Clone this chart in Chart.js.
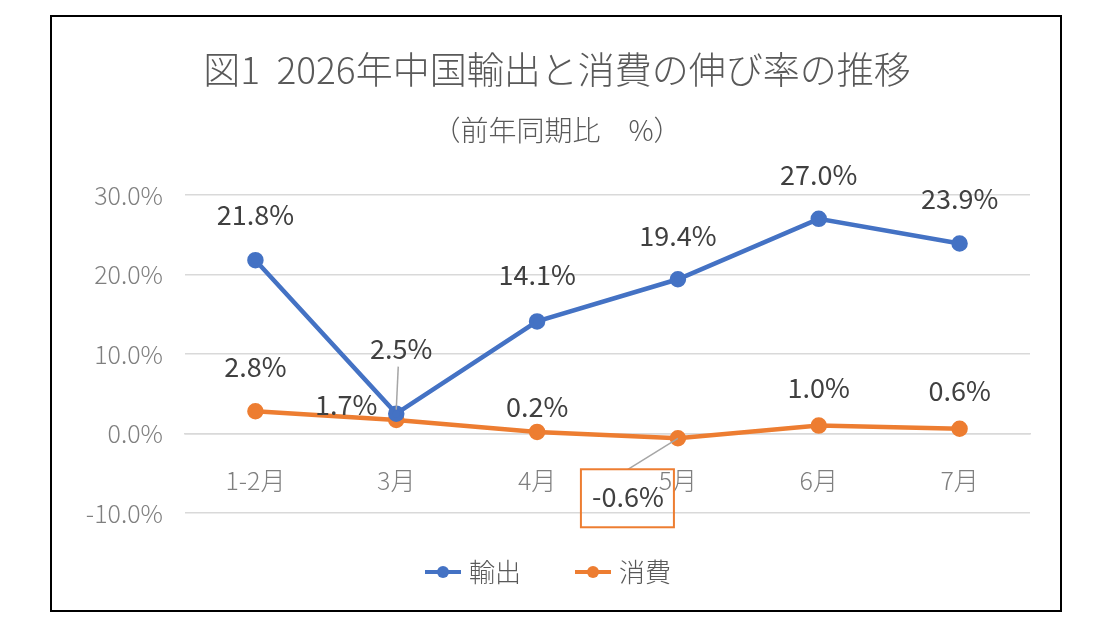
<!DOCTYPE html>
<html><head><meta charset="utf-8">
<script src="https://cdn.jsdelivr.net/npm/chart.js@4"></script>
<style>
body{margin:0;background:#fff}
#box{position:absolute;left:50px;top:15px;width:1012px;height:597px;border:2px solid #000;box-sizing:border-box}
</style></head><body>
<div id="box"><canvas id="c" width="1008" height="593"></canvas></div>
<script>
const months = ['1-2月','3月','4月','5月','6月','7月'];
const exportRate = [21.8, 2.5, 14.1, 19.4, 27.0, 23.9];
const consumeRate = [2.8, 1.7, 0.2, -0.6, 1.0, 0.6];
const FONT = '"Noto Sans CJK JP", "Noto Sans", sans-serif';

// label offsets from each point (dx, dy)
const labelPos = [
  [[0,-45],[5,-65],[0,-47],[0,-44],[0,-44],[0,-45]],
  [[0,-45],[-50,-15],[0,-25],[-50,58],[0,-38],[0,-38]]
];

const extras = {
  id:'extras',
  afterDatasetsDraw(chart){
    const ctx = chart.ctx;
    ctx.save();
    ctx.fillStyle='#595959';
    ctx.textAlign='center'; ctx.textBaseline='middle';
    ctx.font='300 37px '+FONT;
    ctx.fillText('図1  2026年中国輸出と消費の伸び率の推移', 505, 53);
    ctx.font='300 28px '+FONT;
    ctx.fillText('（前年同期比　%）', 505, 113);
    chart.data.datasets.forEach((ds,di)=>{
      chart.getDatasetMeta(di).data.forEach((pt,i)=>{
        const [dx,dy]=labelPos[di][i];
        const x=pt.x+dx, y=pt.y+dy;
        if(di===0&&i===1){
          ctx.strokeStyle='#a6a6a6';ctx.lineWidth=1.5;
          ctx.beginPath();ctx.moveTo(x-3,y+18);ctx.lineTo(pt.x,pt.y-4);ctx.stroke();
        }
        if(di===1&&i===3){
          ctx.strokeStyle='#a6a6a6';ctx.lineWidth=1.5;
          ctx.beginPath();ctx.moveTo(x,y-27);ctx.lineTo(pt.x,pt.y);ctx.stroke();
          ctx.strokeStyle='#ED7D31';ctx.lineWidth=2;
          ctx.strokeRect(x-47,y-27,93,58);
        }
        ctx.fillStyle='#404040';ctx.font='27px '+FONT;
        ctx.fillText(ds.data[i].toFixed(1)+'%', x, y);
      });
    });
    // legend
    const items=[['輸出','#4472C4',373],['消費','#ED7D31',523]];
    items.forEach(([t,c,x0])=>{
      ctx.strokeStyle=c;ctx.lineWidth=4;
      ctx.beginPath();ctx.moveTo(x0,555);ctx.lineTo(x0+36,555);ctx.stroke();
      ctx.fillStyle=c;ctx.beginPath();ctx.arc(x0+18,555,6,0,Math.PI*2);ctx.fill();
      ctx.fillStyle='#595959';ctx.font='300 26px '+FONT;ctx.textAlign='left';
      ctx.fillText(t,x0+44,555);ctx.textAlign='center';
    });
    ctx.restore();
  }
};

new Chart(document.getElementById('c'), {
  type:'line',
  data:{labels:months,datasets:[
    {label:'輸出',data:exportRate,borderColor:'#4472C4',backgroundColor:'#4472C4',borderWidth:4.5,pointRadius:6,tension:0},
    {label:'消費',data:consumeRate,borderColor:'#ED7D31',backgroundColor:'#ED7D31',borderWidth:4.5,pointRadius:6,tension:0}
  ]},
  options:{
    responsive:false,animation:false,
    layout:{padding:{top:178,bottom:97,right:30,left:0}},
    plugins:{legend:{display:false},tooltip:{enabled:false}},
    scales:{
      x:{position:{y:0},offset:true,grid:{display:false,offset:true},border:{color:'#d9d9d9',width:1.5},
        ticks:{color:'#7f7f7f',font:{size:25,family:FONT,weight:300},padding:24}},
      y:{min:-10,max:30,
        afterFit(s){s.width=133;},
        grid:{color:'#d9d9d9',lineWidth:1.5,drawTicks:false},border:{display:false},
        ticks:{stepSize:10,color:'#7f7f7f',font:{size:25,family:FONT,weight:300},padding:22,
          callback:v=>v.toFixed(1)+'%'}}
    }
  },
  plugins:[extras]
});
</script>
</body></html>
